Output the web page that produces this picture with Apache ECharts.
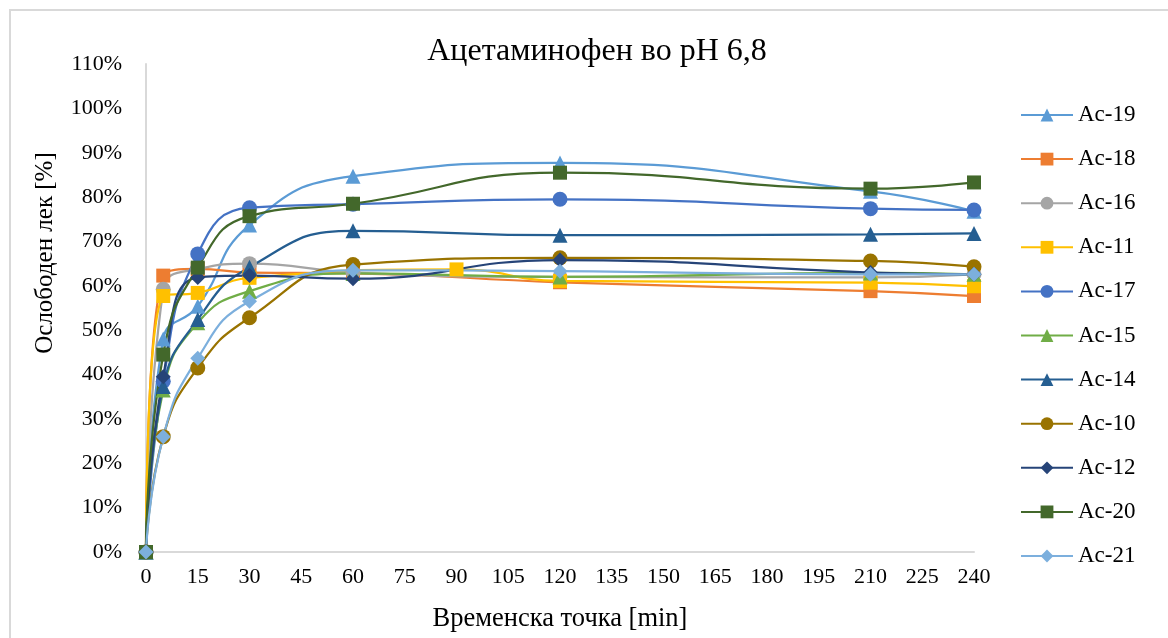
<!DOCTYPE html>
<html>
<head>
<meta charset="utf-8">
<script src="https://cdn.jsdelivr.net/npm/echarts@6/dist/echarts.min.js"></script>
<style>
  html, body { margin: 0; padding: 0; background: #fff; }
  #chart { width: 1168px; height: 638px; }
</style>
</head>
<body>
<div id="chart"></div>
<script>
// Sampling times [min]
const timesStd = [0, 5, 15, 30, 60, 120, 210, 240];
const timesAc11 = [0, 5, 15, 30, 90, 120, 210, 240];

// Released drug fraction (0..1) per formulation
const ac19 = [0, 0.48, 0.554, 0.737, 0.847, 0.877, 0.813, 0.768];
const ac18 = [0, 0.623, 0.638, 0.630, 0.628, 0.608, 0.588, 0.577];
const ac16 = [0, 0.592, 0.638, 0.650, 0.630, 0.620, 0.619, 0.626];
const ac11 = [0, 0.577, 0.584, 0.618, 0.637, 0.611, 0.607, 0.599];
const ac17 = [0, 0.385, 0.672, 0.776, 0.784, 0.795, 0.774, 0.771];
const ac15 = [0, 0.365, 0.517, 0.588, 0.628, 0.620, 0.629, 0.626];
const ac14 = [0, 0.373, 0.524, 0.642, 0.724, 0.714, 0.716, 0.718];
const ac10 = [0, 0.260, 0.415, 0.528, 0.648, 0.663, 0.656, 0.643];
const ac12 = [0, 0.395, 0.619, 0.623, 0.616, 0.658, 0.630, 0.626];
const ac20 = [0, 0.445, 0.641, 0.757, 0.785, 0.855, 0.819, 0.833];
const ac21 = [0, 0.260, 0.437, 0.565, 0.635, 0.633, 0.626, 0.626];

const seriesDefs = [
  { name: 'Ac-19', t: timesStd, v: ac19, color: '#5B9BD5', symbol: 'triangle' },
  { name: 'Ac-18', t: timesStd, v: ac18, color: '#ED7D31', symbol: 'rect' },
  { name: 'Ac-16', t: timesStd, v: ac16, color: '#A5A5A5', symbol: 'circle' },
  { name: 'Ac-11', t: timesAc11, v: ac11, color: '#FFC000', symbol: 'rect' },
  { name: 'Ac-17', t: timesStd, v: ac17, color: '#4472C4', symbol: 'circle' },
  { name: 'Ac-15', t: timesStd, v: ac15, color: '#70AD47', symbol: 'triangle' },
  { name: 'Ac-14', t: timesStd, v: ac14, color: '#255E91', symbol: 'triangle' },
  { name: 'Ac-10', t: timesStd, v: ac10, color: '#997300', symbol: 'circle' },
  { name: 'Ac-12', t: timesStd, v: ac12, color: '#264478', symbol: 'diamond' },
  { name: 'Ac-20', t: timesStd, v: ac20, color: '#43682B', symbol: 'rect' },
  { name: 'Ac-21', t: timesStd, v: ac21, color: '#7CAFDD', symbol: 'diamond' }
];

const FONT = 'Liberation Serif';

const chart = echarts.init(document.getElementById('chart'), null, { renderer: 'canvas' });

chart.setOption({
  backgroundColor: '#ffffff',
  animation: false,
  title: {
    text: 'Ацетаминофен во pH 6,8',
    left: 592,
    top: 31,
    textAlign: 'center',
    textStyle: { fontFamily: FONT, fontSize: 32, fontWeight: 'normal', color: '#000' }
  },
  graphic: [
    {
      type: 'rect',
      shape: { x: 10, y: 10, width: 1300, height: 800 },
      style: { fill: 'none', stroke: '#D9D9D9', lineWidth: 2 },
      silent: true
    },
    {
      type: 'text',
      x: 45, y: 253,
      rotation: Math.PI / 2,
      style: {
        text: 'Ослободен лек [%]',
        fontFamily: FONT, fontSize: 25, fill: '#000',
        align: 'center', verticalAlign: 'middle'
      }
    }
  ],
  legend: {
    orient: 'vertical',
    left: 1020,
    top: 103.5,
    padding: 0,
    itemWidth: 52,
    itemHeight: 16,
    itemGap: 21.1,
    textStyle: { fontFamily: FONT, fontSize: 23, color: '#000' },
    data: seriesDefs.map(s => s.name)
  },
  grid: { left: 146, right: 194, top: 64, bottom: 86, containLabel: false },
  xAxis: {
    type: 'value',
    min: 0, max: 240, interval: 15,
    name: 'Временска точка [min]',
    nameLocation: 'middle',
    nameGap: 54,
    nameTextStyle: { fontFamily: FONT, fontSize: 26.5, color: '#000' },
    axisLine: { lineStyle: { color: '#D9D9D9', width: 2 } },
    axisTick: { show: false },
    splitLine: { show: false },
    axisLabel: { fontFamily: FONT, fontSize: 22, color: '#000', margin: 14 }
  },
  yAxis: {
    type: 'value',
    min: 0, max: 1.1, interval: 0.1,
    axisLine: { show: true, lineStyle: { color: '#D9D9D9', width: 2 } },
    axisTick: { show: false },
    splitLine: { show: false },
    axisLabel: {
      fontFamily: FONT, fontSize: 22, color: '#000', margin: 24,
      formatter: v => Math.round(v * 100) + '%'
    }
  },
  series: seriesDefs.map(s => ({
    name: s.name,
    type: 'line',
    smooth: 0.5,
    data: s.t.map((t, i) => [t, s.v[i]]),
    symbol: s.symbol,
    symbolSize: s.symbol === 'rect' ? 14 : 15,
    showAllSymbol: true,
    color: s.color,
    lineStyle: { color: s.color, width: 2.25 },
    itemStyle: { color: s.color, borderWidth: 0 }
  }))
});
</script>
</body>
</html>
